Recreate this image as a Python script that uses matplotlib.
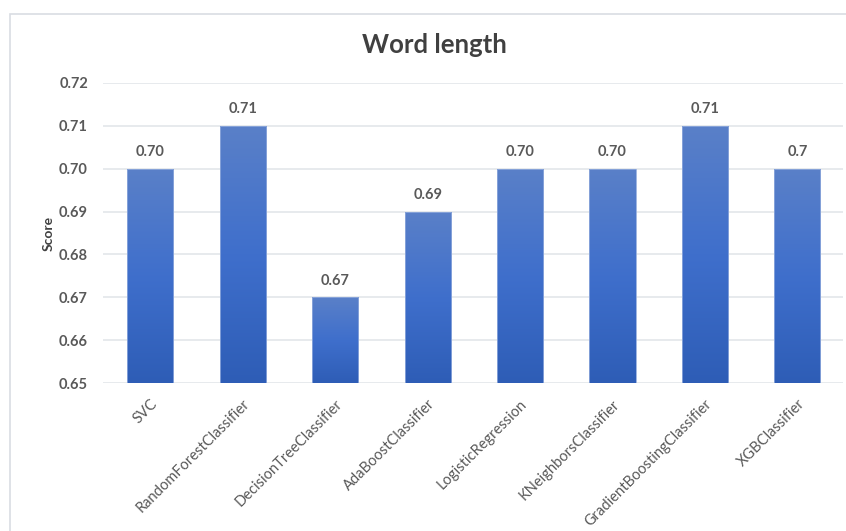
import numpy as np
import matplotlib.pyplot as plt
from matplotlib.patches import Rectangle
from matplotlib.colors import LinearSegmentedColormap
from matplotlib.transforms import ScaledTranslation

plt.rcParams['font.family'] = ['Lato', 'DejaVu Sans']

models = ['SVC', 'RandomForestClassifier', 'DecisionTreeClassifier', 'AdaBoostClassifier',
          'LogisticRegression', 'KNeighborsClassifier', 'GradientBoostingClassifier', 'XGBClassifier']
scores = [0.70, 0.71, 0.67, 0.69, 0.70, 0.70, 0.71, 0.70]
score_labels = ['0.70', '0.71', '0.67', '0.69', '0.70', '0.70', '0.71', '0.7']
yticks = [0.65, 0.66, 0.67, 0.68, 0.69, 0.70, 0.71, 0.72]

fig = plt.figure(figsize=(8.46, 5.31), dpi=100)
ax = fig.add_axes([0.122, 0.2787, 0.874, 0.565])

# outer border like an Excel chart area
fig.patches.append(Rectangle((10 / 846, -0.05), 1.0, 1 - 14 / 531 + 0.05, transform=fig.transFigure,
                             fill=False, edgecolor='#d9dde3', linewidth=1.2))

ymin = 0.65
width = 0.5
cmap = LinearSegmentedColormap.from_list('bar', ['#2e5db6', '#3f6fcc', '#5a80c8'])
grad = np.linspace(0, 1, 256).reshape(-1, 1)

x = np.arange(len(models))
bars = ax.bar(x, [s - ymin for s in scores], width=width, bottom=ymin,
              color='none', edgecolor='#8fa9dc', linewidth=0.6, zorder=3)
for b in bars:
    x0, y0 = b.get_x(), b.get_y()
    w, h = b.get_width(), b.get_height()
    im = ax.imshow(grad, extent=[x0, x0 + w, y0, y0 + h], origin='lower',
                   cmap=cmap, aspect='auto', zorder=2)
    im.set_clip_path(b)

for xi, s, lab in zip(x, scores, score_labels):
    ax.text(xi, s + 0.0022, lab, ha='center', va='bottom', fontsize=10.5,
            fontweight='bold', color='#595959')

ax.set_xlim(-0.51, 7.49)
ax.set_ylim(0.65, 0.72)
ax.set_yticks(yticks)
ax.set_yticklabels([f'{t:.2f}' for t in yticks], fontsize=10.5, fontweight='bold', color='#595959')
ax.set_xticks(x)
ax.set_xticklabels(models, rotation=45, ha='right', rotation_mode='anchor',
                   fontsize=10.5, color='#595959')
# nudge rotated labels slightly left so they end at the bar centre
shift = ScaledTranslation(-4 / 100, 0, fig.dpi_scale_trans)
for lbl in ax.get_xticklabels():
    lbl.set_transform(lbl.get_transform() + shift)
ax.tick_params(axis='y', length=0, pad=11)
ax.tick_params(axis='x', length=0, pad=10)
ax.grid(axis='y', color='#e3e6ea', linewidth=1.2, zorder=0)
ax.set_axisbelow(True)
for sp in ax.spines.values():
    sp.set_visible(False)

ax.set_ylabel('Score', fontsize=10, fontweight='bold', color='#404040', labelpad=3)
fig.text(0.514, 0.915, 'Word length', ha='center', va='center', fontsize=18.5,
         fontweight='bold', color='#404040')

fig.savefig('out.png', dpi=100)
